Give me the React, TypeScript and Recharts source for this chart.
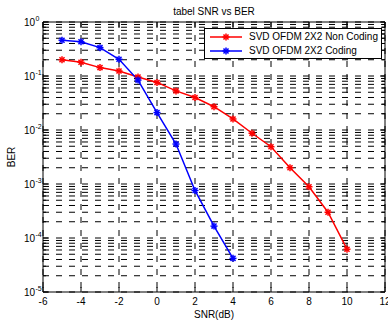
import { LineChart, Line, XAxis, YAxis, CartesianGrid, Legend, ReferenceArea } from 'recharts'

// SNR (dB) and BER
const snrNonCoding = [-5, -4, -3, -2, -1, 0, 1, 2, 3, 4, 5, 6, 7, 8, 9, 10]
const berNonCoding = [0.2, 0.18, 0.143, 0.124, 0.096, 0.076, 0.053, 0.04, 0.027, 0.016, 0.0087, 0.0049, 0.002, 0.00089, 0.0003, 0.000062]
const snrCoding = [-5, -4, -3, -2, -1, 0, 1, 2, 3, 4]
const berCoding = [0.46, 0.43, 0.335, 0.204, 0.084, 0.021, 0.0055, 0.00076, 0.000166, 0.000042]

const xTicks = [-6, -4, -2, 0, 2, 4, 6, 8, 10, 12]
const yMajorTicks = [1e-5, 1e-4, 1e-3, 1e-2, 1e-1, 1]
const yMinorFactors = [2, 3, 4, 5, 6, 7, 8, 9]

const seriesNames = ['SVD OFDM 2X2 Non Coding', 'SVD OFDM 2X2 Coding']
const seriesColors = ['#ff0000', '#0000ff']

const nonCodingData = snrNonCoding.map((snr, i) => ({ snr, ber: berNonCoding[i] }))
const codingData = snrCoding.map((snr, i) => ({ snr, ber: berCoding[i] }))
const yTicks = [
  ...yMajorTicks,
  ...yMajorTicks.slice(0, -1).flatMap((m) => yMinorFactors.map((f) => +(m * f).toPrecision(3))),
].sort((a, b) => a - b)

const FONT = '"Liberation Sans", Arial, sans-serif'
const PLOT = { left: 43, right: 385, top: 22, bottom: 292 }

function Star({ cx, cy, color, r = 3.5 }: { cx: number; cy: number; color: string; r?: number }) {
  const d = r * 0.72
  return (
    <g stroke={color} strokeWidth={1.5} fill="none">
      <line x1={cx - r} y1={cy} x2={cx + r} y2={cy} />
      <line x1={cx} y1={cy - r} x2={cx} y2={cy + r} />
      <line x1={cx - d} y1={cy - d} x2={cx + d} y2={cy + d} />
      <line x1={cx - d} y1={cy + d} x2={cx + d} y2={cy - d} />
    </g>
  )
}

function XTick(props: any) {
  const x = props.payload.coordinate
  return (
    <g>
      <line x1={x} y1={PLOT.bottom} x2={x} y2={PLOT.bottom - 5} stroke="#000" />
      <line x1={x} y1={PLOT.top} x2={x} y2={PLOT.top + 5} stroke="#000" />
      <text x={x} y={PLOT.bottom + 13} textAnchor="middle" fontSize={10} fontFamily={FONT} fill="#000">
        {props.payload.value}
      </text>
    </g>
  )
}

function YTick(props: any) {
  const y = props.payload.coordinate
  const v = props.payload.value
  const exp = Math.round(Math.log10(v))
  const major = Math.abs(Math.log10(v) - exp) < 1e-6
  const len = major ? 5 : 3
  return (
    <g>
      <line x1={PLOT.left} y1={y} x2={PLOT.left + len} y2={y} stroke="#000" />
      <line x1={PLOT.right} y1={y} x2={PLOT.right - len} y2={y} stroke="#000" />
      {major && (
        <text y={y + 4} fontFamily={FONT} fill="#000">
          <tspan x={35} textAnchor="end" fontSize={10}>10</tspan>
          <tspan x={35.5} dy={-5} fontSize={7}>{exp}</tspan>
        </text>
      )}
    </g>
  )
}

function LegendBox() {
  return (
    <div
      style={{
        width: 178,
        height: 31,
        border: '1px solid #000',
        background: '#fff',
        fontFamily: FONT,
        fontSize: 10,
        boxSizing: 'border-box',
      }}
    >
      {seriesNames.map((name, i) => (
        <div key={name} style={{ display: 'flex', alignItems: 'center', height: 15, marginTop: i === 0 ? 0 : -1 }}>
          <svg width={40} height={14} style={{ marginLeft: 4 }}>
            <line x1={1} y1={7} x2={33} y2={7} stroke={seriesColors[i]} strokeWidth={1.5} />
            <Star cx={17} cy={7} color={seriesColors[i]} />
          </svg>
          <span style={{ color: '#000' }}>{name}</span>
        </div>
      ))}
    </div>
  )
}

export default function App() {
  return (
    <div style={{ position: 'absolute', left: 0, top: 0, width: 388, height: 325, background: '#fff' }}>
      <LineChart width={388} height={325} margin={{ top: 22, right: 3, bottom: 0, left: 0 }}>
        <CartesianGrid stroke="#000" strokeWidth={1} strokeDasharray="6 7" />
        <XAxis
          dataKey="snr"
          type="number"
          domain={[-6, 12]}
          ticks={xTicks}
          height={33}
          tickLine={false}
          axisLine={false}
          tick={<XTick />}
          interval={0}
          allowDataOverflow
        />
        <YAxis
          type="number"
          scale="log"
          domain={[1e-5, 1]}
          ticks={yTicks}
          width={43}
          tickLine={false}
          axisLine={false}
          tick={<YTick />}
          interval={0}
          allowDataOverflow
        />
        <ReferenceArea x1={-6} x2={12} y1={1e-5} y2={1} fill="none" stroke="#000" strokeWidth={1} />
        <Line
          data={nonCodingData}
          dataKey="ber"
          name={seriesNames[0]}
          stroke={seriesColors[0]}
          strokeWidth={1.5}
          dot={(p: any) => <Star key={'a' + p.index} cx={p.cx} cy={p.cy} color={seriesColors[0]} />}
          isAnimationActive={false}
        />
        <Line
          data={codingData}
          dataKey="ber"
          name={seriesNames[1]}
          stroke={seriesColors[1]}
          strokeWidth={1.5}
          dot={(p: any) => <Star key={'b' + p.index} cx={p.cx} cy={p.cy} color={seriesColors[1]} />}
          isAnimationActive={false}
        />
        <Legend
          layout="horizontal"
          verticalAlign="middle"
          align="center"
          content={<LegendBox />}
          wrapperStyle={{ position: 'absolute', left: 204, top: 28, width: 178 }}
        />
        <text x={214} y={15} textAnchor="middle" fontSize={10} fontFamily={FONT} fill="#000">
          tabel SNR vs BER
        </text>
        <text x={214} y={318} textAnchor="middle" fontSize={10} fontFamily={FONT} fill="#000">
          SNR(dB)
        </text>
        <text
          x={15}
          y={157}
          textAnchor="middle"
          fontSize={10}
          fontFamily={FONT}
          fill="#000"
          transform="rotate(-90 15 157)"
        >
          BER
        </text>
      </LineChart>
    </div>
  )
}
